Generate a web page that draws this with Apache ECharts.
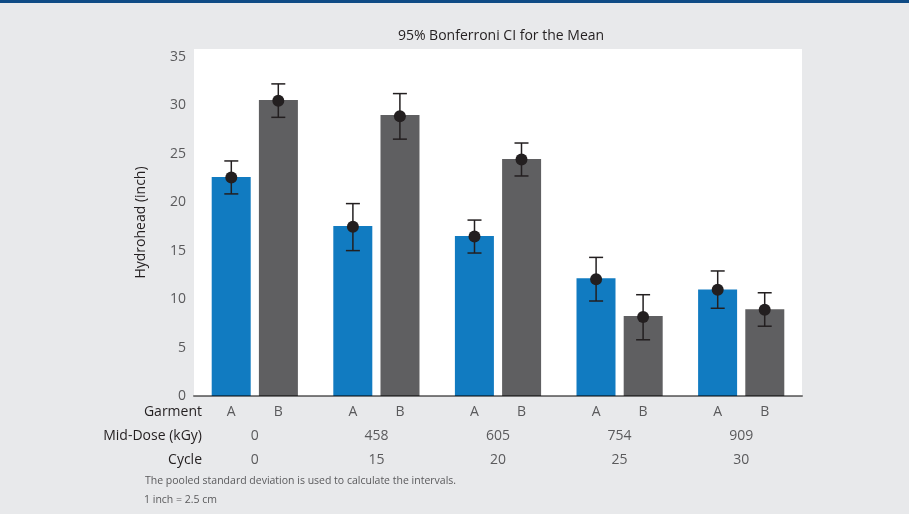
<!DOCTYPE html>
<html>
<head>
<meta charset="utf-8">
<script src="https://cdn.jsdelivr.net/npm/echarts@6/dist/echarts.min.js"></script>
<style>
  html, body { margin: 0; padding: 0; background: #e8e9eb; }
  #chart { width: 909px; height: 514px; }
</style>
</head>
<body>
<div id="chart"></div>
<script>
// group labels
const garments = ['A', 'B'];
const doses = ['0', '458', '605', '754', '909'];
const cycles = ['0', '15', '20', '25', '30'];
const yTicks = [0, 5, 10, 15, 20, 25, 30, 35];

// bar heights
const barA = [22.6, 17.55, 16.5, 12.15, 11.0];
const barB = [30.55, 29.0, 24.45, 8.25, 8.95];

// mean and 95% Bonferroni CI
const meanA = [22.55, 17.45, 16.45, 12.05, 10.95];
const lowA = [20.85, 15.0, 14.75, 9.8, 9.05];
const highA = [24.25, 19.85, 18.15, 14.3, 12.9];
const meanB = [30.45, 28.85, 24.4, 8.15, 8.9];
const lowB = [28.75, 26.5, 22.7, 5.8, 7.2];
const highB = [32.2, 31.2, 26.1, 10.45, 10.65];

const FONT = '"Open Sans", "Noto Sans", sans-serif';
const INK = '#231f20';

const chart = echarts.init(document.getElementById('chart'));

const ciData = (mean, low, high) => mean.map((m, i) => [i, m, low[i], high[i]]);

const errorBar = (offset) => (params, api) => {
  const c = api.value(0);
  const mid = api.coord([c, api.value(1)]);
  const lo = api.coord([c, api.value(2)]);
  const hi = api.coord([c, api.value(3)]);
  const x = mid[0] + offset;
  const ls = { stroke: INK, lineWidth: 1.5 };
  return {
    type: 'group',
    children: [
      { type: 'line', shape: { x1: x, y1: hi[1], x2: x, y2: lo[1] }, style: ls },
      { type: 'line', shape: { x1: x - 7, y1: hi[1], x2: x + 7, y2: hi[1] }, style: ls },
      { type: 'line', shape: { x1: x - 7, y1: lo[1], x2: x + 7, y2: lo[1] }, style: ls },
      { type: 'circle', shape: { cx: x, cy: mid[1], r: 6 }, style: { fill: INK } }
    ]
  };
};

const option = {
  backgroundColor: '#e8e9eb',
  animation: false,
  textStyle: { fontFamily: FONT },
  grid: {
    left: 194, right: 107, top: 49, bottom: 118,
    show: true, backgroundColor: '#ffffff', borderWidth: 0
  },
  xAxis: {
    type: 'category',
    data: doses,
    z: 10,
    axisLine: { lineStyle: { color: 'rgba(0,0,0,0.5)', width: 2 } },
    axisTick: { show: false },
    axisLabel: {
      margin: 4,
      interval: 0,
      formatter: (val, idx) =>
        `{g|${garments[0]}}{g|${garments[1]}}\n{v|${doses[idx]}}\n{v|${cycles[idx]}}`,
      rich: {
        g: { width: 47, align: 'center', fontSize: 14, lineHeight: 24, color: '#5a5a5c', fontFamily: FONT },
        v: { width: 94, align: 'center', fontSize: 14, lineHeight: 24, color: '#5a5a5c', fontFamily: FONT }
      }
    }
  },
  yAxis: {
    type: 'value',
    min: 0,
    max: 35.8,
    interval: 5,
    name: 'Hydrohead (inch)',
    nameLocation: 'middle',
    nameGap: 46,
    nameTextStyle: { fontSize: 14, color: INK, fontFamily: FONT },
    axisLine: { show: false },
    axisTick: { show: false },
    splitLine: { show: false },
    axisLabel: {
      margin: 8,
      fontSize: 14,
      color: '#5a5a5c',
      formatter: (v) => (yTicks.includes(v) ? String(v) : '')
    }
  },
  series: [
    {
      type: 'bar', data: barA, barWidth: 39, barGap: '21%',
      itemStyle: { color: '#117bc1' }
    },
    {
      type: 'bar', data: barB, barWidth: 39, barGap: '21%',
      itemStyle: { color: '#5f5f61' }
    },
    {
      type: 'custom', data: ciData(meanA, lowA, highA),
      encode: { x: 0, y: 1 }, renderItem: errorBar(-23.5), z: 5
    },
    {
      type: 'custom', data: ciData(meanB, lowB, highB),
      encode: { x: 0, y: 1 }, renderItem: errorBar(23.5), z: 5
    }
  ],
  graphic: [
    { type: 'rect', left: 0, top: 0, shape: { width: 909, height: 3 }, style: { fill: '#0f4b85' } },
    {
      type: 'text', x: 501, y: 36,
      style: { text: '95% Bonferroni CI for the Mean', fill: INK, font: `14px ${FONT}`, textAlign: 'center', textVerticalAlign: 'middle' }
    },
    {
      type: 'text', x: 202, y: 412,
      style: { text: 'Garment', fill: INK, font: `14px ${FONT}`, textAlign: 'right', textVerticalAlign: 'middle' }
    },
    {
      type: 'text', x: 202, y: 436,
      style: { text: 'Mid-Dose (kGy)', fill: INK, font: `14px ${FONT}`, textAlign: 'right', textVerticalAlign: 'middle' }
    },
    {
      type: 'text', x: 202, y: 460,
      style: { text: 'Cycle', fill: INK, font: `14px ${FONT}`, textAlign: 'right', textVerticalAlign: 'middle' }
    },
    {
      type: 'text', x: 145, y: 481,
      style: { text: 'The pooled standard deviation is used to calculate the intervals.', fill: '#5a5a5c', font: `10.5px ${FONT}`, textVerticalAlign: 'middle' }
    },
    {
      type: 'text', x: 144, y: 500,
      style: { text: '1 inch = 2.5 cm', fill: '#5a5a5c', font: `10.5px ${FONT}`, textVerticalAlign: 'middle' }
    }
  ]
};

chart.setOption(option);
</script>
</body>
</html>
